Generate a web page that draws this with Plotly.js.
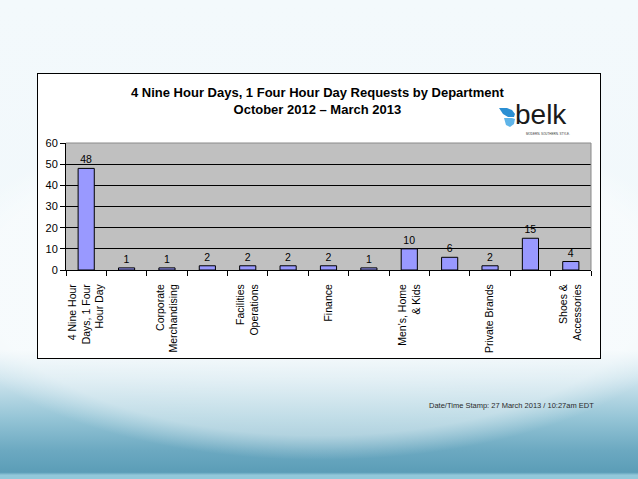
<!DOCTYPE html>
<html>
<head>
<meta charset="utf-8">
<script src="https://cdn.plot.ly/plotly-3.0.1.min.js"></script>
<style>
  html, body { margin:0; padding:0; width:638px; height:479px; overflow:hidden; }
  body {
    background:
      radial-gradient(ellipse 390px 175px at 319px 285px, rgba(255,255,255,0.5) 0%, rgba(255,255,255,0.4) 86%, rgba(255,255,255,0) 100%),
      linear-gradient(to bottom, #f3f9fc 0%, #f1f8fb 73%, #cfe5ee 79%, #97c6d7 87%, #6ca9c1 94%, #5b9db7 98.6%, #92c8da 99.2%, #92c8da 100%);
    position:relative;
  }
  #box { position:absolute; left:37px; top:73px; width:562px; height:284px; background:#fff; border:1px solid #000; }
  #chart { position:absolute; left:0; top:0; width:638px; height:479px; }
</style>
</head>
<body>
<div id="box"></div>
<div id="chart"></div>
<script>
// ---- data ----
const categories = [
  "4 Nine Hour<br>Days, 1 Four<br>Hour Day", "",
  "Corporate<br>Merchandising", "",
  "Facilities<br>Operations", "",
  "Finance", "",
  "Men's, Home<br>& Kids", "",
  "Private Brands", "",
  "Shoes &<br>Accessories"
];
const values = [48, 1, 1, 2, 2, 2, 2, 1, 10, 6, 2, 15, 4];
const yTicks = [0, 10, 20, 30, 40, 50, 60];
const titleText = "4 Nine Hour Days, 1 Four Hour Day Requests by Department<br>October 2012 – March 2013";
const stampText = "Date/Time Stamp: 27 March 2013 / 10:27am EDT";

// ---- layout helpers (pixel -> paper) ----
const L = 66, R = 591, T = 143, B = 270;
const px = x => (x - L) / (R - L);
const py = y => (B - y) / (B - T);

const idx = categories.map((c, i) => i);

const trace = {
  type: 'bar',
  x: idx,
  y: values,
  text: values.map(String),
  textposition: 'outside',
  textfont: { family: 'Arial, Liberation Sans, sans-serif', size: 10.5, color: '#000' },
  cliponaxis: false,
  marker: { color: '#9999ff', line: { color: '#000', width: 1 } },
  hoverinfo: 'none'
};

// butterfly path in pixel coords
function pth(pts) {
  return pts.map((p, i) => (i ? 'L' : 'M') + px(p[0]).toFixed(4) + ',' + py(p[1]).toFixed(4)).join(' ') + ' Z';
}
const wingTop = pth([[499,108],[507,108],[512,110],[515,114],[514,117],[508,117],[503,114]]);
const wingBot = pth([[504,118],[512,118],[515,119],[514,124],[510,127],[506,125]]);

const layout = {
  width: 638, height: 479,
  margin: { l: L, r: 638 - R, t: T, b: 479 - B, pad: 0 },
  paper_bgcolor: 'rgba(0,0,0,0)',
  plot_bgcolor: '#c0c0c0',
  bargap: 0.6,
  showlegend: false,
  font: { family: 'Arial, Liberation Sans, sans-serif', color: '#000' },
  xaxis: {
    type: 'category',
    tickmode: 'array',
    tickvals: idx,
    ticktext: categories,
    tickson: 'boundaries',
    ticks: 'outside', ticklen: 5, tickcolor: '#000', tickwidth: 1,
    tickangle: -90,
    tickfont: { size: 10.5, family: 'Arial, Liberation Sans, sans-serif', color: '#000' },
    ticklabelstandoff: 9,
    showgrid: false,
    showline: true, linecolor: '#000', linewidth: 1,
    range: [-0.5, categories.length - 0.5],
    fixedrange: true
  },
  yaxis: {
    range: [0, 60],
    tickmode: 'array', tickvals: yTicks,
    ticks: 'outside', ticklen: 5, tickcolor: '#000',
    tickfont: { size: 11, family: 'Arial, Liberation Sans, sans-serif', color: '#000' },
    showgrid: true, gridcolor: '#000', gridwidth: 1,
    zeroline: false,
    showline: true, linecolor: '#000', linewidth: 1,
    fixedrange: true
  },
  shapes: [
    { type: 'line', xref: 'paper', yref: 'paper', x0: 0, x1: 1, y0: 1, y1: 1, line: { color: '#8a8a8a', width: 1 } },
    { type: 'line', xref: 'paper', yref: 'paper', x0: 1, x1: 1, y0: 0, y1: 1, line: { color: '#8a8a8a', width: 1 } },
    { type: 'path', xref: 'paper', yref: 'paper', path: wingTop, fillcolor: '#2b8fd3', line: { width: 0 } },
    { type: 'path', xref: 'paper', yref: 'paper', path: wingBot, fillcolor: '#5fb4e8', line: { width: 0 } }
  ],
  annotations: [
    { text: '<b>' + titleText + '</b>', xref: 'paper', yref: 'paper', x: px(317), y: py(83),
      xanchor: 'center', yanchor: 'top', showarrow: false, align: 'center',
      font: { size: 13, family: 'Arial, Liberation Sans, sans-serif', color: '#000' } },
    { text: 'belk', xref: 'paper', yref: 'paper', x: px(513), y: py(114),
      xanchor: 'left', yanchor: 'middle', showarrow: false,
      font: { size: 28, family: 'Arial, Liberation Sans, sans-serif', color: '#1a1a1a' } },
    { text: 'MODERN. SOUTHERN. STYLE.', xref: 'paper', yref: 'paper', x: px(572), y: py(134),
      xanchor: 'right', yanchor: 'middle', showarrow: false,
      font: { size: 3, family: 'Arial, Liberation Sans, sans-serif', color: '#333' } },
    { text: stampText, xref: 'paper', yref: 'paper', x: px(511), y: py(405),
      xanchor: 'center', yanchor: 'middle', showarrow: false,
      font: { size: 7.5, family: 'Arial, Liberation Sans, sans-serif', color: '#2a2a2a' } }
  ]
};

Plotly.newPlot('chart', [trace], layout, { displayModeBar: false, staticPlot: true });
</script>
</body>
</html>
